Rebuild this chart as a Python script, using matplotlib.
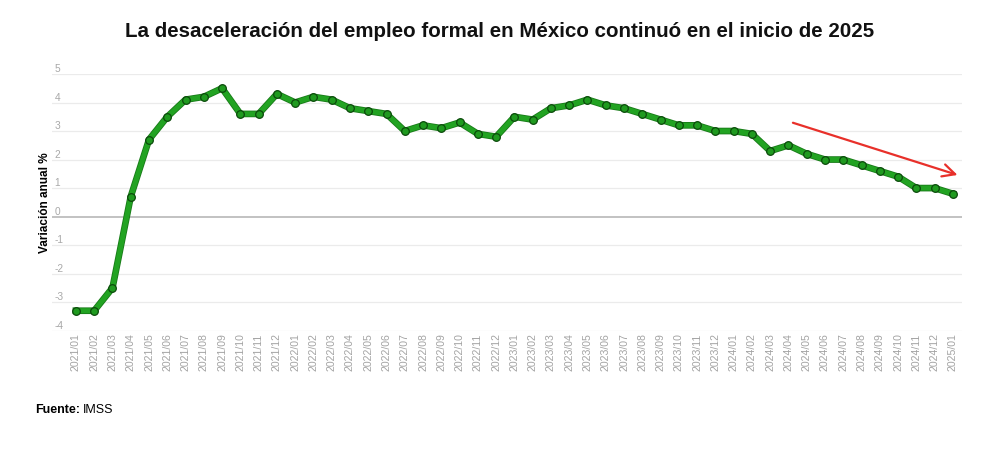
import matplotlib
matplotlib.use("Agg")
import matplotlib.pyplot as plt
import matplotlib.patheffects as pe
import numpy as np

# variación anual del empleo formal (%), IMSS
months = ['2021/01', '2021/02', '2021/03', '2021/04', '2021/05', '2021/06', '2021/07', '2021/08', '2021/09',
          '2021/10', '2021/11', '2021/12', '2022/01', '2022/02', '2022/03', '2022/04', '2022/05', '2022/06',
          '2022/07', '2022/08', '2022/09', '2022/10', '2022/11', '2022/12', '2023/01', '2023/02', '2023/03',
          '2023/04', '2023/05', '2023/06', '2023/07', '2023/08', '2023/09', '2023/10', '2023/11', '2023/12',
          '2024/01', '2024/02', '2024/03', '2024/04', '2024/05', '2024/06', '2024/07', '2024/08', '2024/09',
          '2024/10', '2024/11', '2024/12', '2025/01']
variacion = [-3.3, -3.3, -2.5, 0.7, 2.7, 3.5, 4.1, 4.2, 4.5,
             3.6, 3.6, 4.3, 4.0, 4.2, 4.1, 3.8, 3.7, 3.6,
             3.0, 3.2, 3.1, 3.3, 2.9, 2.8, 3.5, 3.4, 3.8,
             3.9, 4.1, 3.9, 3.8, 3.6, 3.4, 3.2, 3.2, 3.0,
             3.0, 2.9, 2.3, 2.5, 2.2, 2.0, 2.0, 1.8, 1.6,
             1.4, 1.0, 1.0, 0.8]
yticks = [5, 4, 3, 2, 1, 0, -1, -2, -3, -4]

# flecha de tendencia (posición en índice de mes, valor)
arrow_start = (39.1, 3.32)
arrow_end = (48.4, 1.43)

plt.rcParams['font.family'] = ['Liberation Sans', 'DejaVu Sans']

fig = plt.figure(figsize=(10, 4.68), dpi=100)
ax = fig.add_axes([0.052, 0.2934, 0.91, 0.5485])

x = np.arange(len(months))

# linea con borde oscuro
ax.plot(x, variacion, color='#22a322', linewidth=3.6, solid_joinstyle='round',
        clip_on=False, zorder=3,
        path_effects=[pe.Stroke(linewidth=4.8, foreground='#187a18'), pe.Normal()])
ax.plot(x, variacion, linestyle='none', marker='o', markersize=5.5,
        markerfacecolor='#1f9a1f', markeredgecolor='#0b4a0b', markeredgewidth=0.9,
        clip_on=False, zorder=4)

ax.annotate('', xy=arrow_end, xytext=arrow_start,
            arrowprops=dict(arrowstyle='->,head_length=0.9,head_width=0.45', color='#e8302a', lw=1.6),
            zorder=5)

ax.set_xlim(-1.31, 48.5)
ax.set_ylim(-4, 5)

for v in yticks:
    ax.axhline(v, color='#bdbdbd' if v == 0 else '#ebebeb', linewidth=1.3 if v == 0 else 0.9, zorder=1)
    ax.text(0.003, v, str(v), transform=ax.get_yaxis_transform(), ha='left', va='bottom',
            fontsize=7.3, color='#a8a8a8')

ax.set_yticks([])
ax.set_xticks(x)
ax.set_xticklabels(months, rotation=90, fontsize=7.6, color='#a3a3a3')
ax.tick_params(axis='x', length=0, pad=2)
for s in ax.spines.values():
    s.set_visible(False)

ax.set_ylabel('Variación anual %', fontsize=8.5, fontweight='bold')
ax.yaxis.set_label_coords(-0.001, 0.5)

fig.text(0.5, 0.932, 'La desaceleración del empleo formal en México continuó en el inicio de 2025',
         ha='center', va='center', fontsize=14.8, fontweight='bold', color='#111111')

t = fig.text(0.035, 0.123, 'Fuente:', ha='left', va='center', fontsize=9, fontweight='bold')
fig.canvas.draw()
bb = t.get_window_extent()
fig.text(bb.x1 / 1000 + 0.003, 0.123, 'IMSS', ha='left', va='center', fontsize=9)

fig.savefig('out.png', dpi=100, facecolor='white')
